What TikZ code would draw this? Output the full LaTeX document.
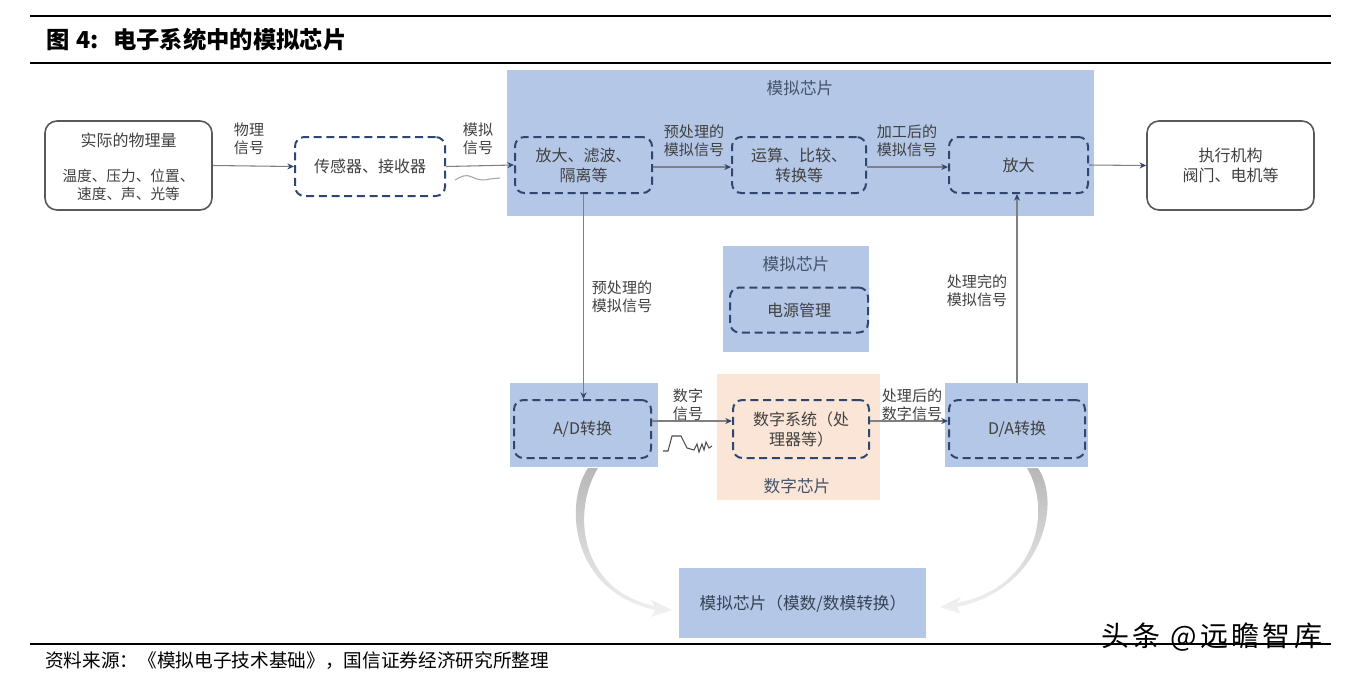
\documentclass[tikz,border=0pt]{standalone}
\usepackage{fontspec}
\setmainfont{Noto Sans CJK SC}
\usetikzlibrary{arrows.meta}
\definecolor{chipblue}{HTML}{B4C7E7}
\definecolor{peach}{HTML}{FBE5D6}
\definecolor{navy}{HTML}{2F4670}
\definecolor{txt}{HTML}{404040}
\definecolor{ttl}{HTML}{44546A}
\definecolor{linegray}{HTML}{808080}
\def\u{0.75pt}
\tikzset{
  whitebox/.style={draw=black!65, line width=1.2pt, rounded corners=9pt, fill=white, align=center, text=txt, font=\fontsize{12}{15}\selectfont},
  dbox/.style={draw=navy, line width=1.5pt, dash pattern=on 6pt off 3.5pt, rounded corners=7pt, align=center, text=txt, font=\fontsize{12}{15}\selectfont},
  chip/.style={fill=chipblue, draw=none},
  lbl/.style={align=center, text=txt, font=\fontsize{11.3}{13.5}\selectfont, inner sep=0pt},
  conn/.style={draw=linegray, line width=0.8pt, -{Stealth[length=5pt,width=4.5pt,color=navy]}},
  rulefat/.style={draw=black, line width=1.8pt},
  curvearr/.style={top color=black!28, bottom color=black!5, draw=none},
}
\begin{document}
\begin{tikzpicture}[x=0.75pt,y=-0.75pt]
\useasboundingbox (0,0) rectangle (1371,676);
% rules and title
\coordinate (r1a) at (30,16); \coordinate (r1b) at (1331,16);
\coordinate (r2a) at (30,63); \coordinate (r2b) at (1331,63);
\coordinate (r3a) at (30,644); \coordinate (r3b) at (1331,644);
\draw[rulefat] (r1a) -- (r1b);
\draw[line width=1.4pt] (r2a) -- (r2b);
\draw[line width=1.4pt] (r3a) -- (r3b);
\node[anchor=west, inner sep=0pt, font=\fontsize{17.5}{19}\selectfont\bfseries] (title) at (46,40) {图\hspace{0.3em}4:\hspace{0.6em}电子系统中的模拟芯片};
\node[anchor=west, inner sep=0pt, font=\fontsize{14}{16}\selectfont] (src) at (45,661) {资料来源：《模拟电子技术基础》，国信证券经济研究所整理};

% chip backgrounds
\node[chip, minimum width=587*\u, minimum height=146*\u] (chipA) at (800.5,143) {};
\node[text=ttl, font=\fontsize{12.5}{15}\selectfont, inner sep=0pt] (chipAt) at (800,88) {模拟芯片};
\node[chip, minimum width=146*\u, minimum height=106*\u] (chipP) at (796,299) {};
\node[text=ttl, font=\fontsize{12.5}{15}\selectfont, inner sep=0pt] (chipPt) at (796,264) {模拟芯片};
\node[chip, minimum width=148*\u, minimum height=84*\u] (chipAD) at (584,425) {};
\node[chip, minimum width=143*\u, minimum height=84*\u] (chipDA) at (1016.5,425) {};
\node[fill=peach, minimum width=163*\u, minimum height=126*\u] (chipD) at (798.5,437) {};
\node[text=ttl, font=\fontsize{12.5}{15}\selectfont, inner sep=0pt] (chipDt) at (797,486) {数字芯片};
\node[chip, minimum width=247*\u, minimum height=70*\u] (chipM) at (802.5,603) {};
\node[text=ttl!80!black, font=\fontsize{12.5}{15}\selectfont, inner sep=0pt] (chipMt) at (803,604) {模拟芯片（模数/数模转换）};

% boxes
\node[whitebox, minimum width=167*\u, minimum height=89*\u] (phys) at (128.5,165.5) {};
\node[text=txt, font=\fontsize{12}{15}\selectfont, inner sep=0pt] (physa) at (128.5,140) {实际的物理量};
\node[text=txt, align=center, font=\fontsize{11}{13.5}\selectfont, inner sep=0pt] (physb) at (128.5,185) {温度、压力、位置、\\速度、声、光等};
\node[dbox, minimum width=150*\u, minimum height=59*\u] (sensor) at (370,166.5) {传感器、接收器};
\node[dbox, minimum width=137*\u, minimum height=56*\u] (amp1) at (583.5,165) {放大、滤波、\\隔离等};
\node[dbox, minimum width=134*\u, minimum height=56*\u] (calc) at (799,165) {运算、比较、\\转换等};
\node[dbox, minimum width=139*\u, minimum height=56*\u] (amp2) at (1018.5,165) {放大};
\node[whitebox, minimum width=167*\u, minimum height=89*\u] (act) at (1230.5,165.5) {执行机构\\阀门、电机等};
\node[dbox, minimum width=138*\u, minimum height=45*\u] (power) at (799,310) {电源管理};
\node[dbox, minimum width=137*\u, minimum height=58*\u] (ad) at (582.5,429) {A/D转换};
\node[dbox, minimum width=136*\u, minimum height=58*\u] (dig) at (801,429) {数字系统（处\\理器等）};
\node[dbox, minimum width=136*\u, minimum height=58*\u] (da) at (1017,429) {D/A转换};

% connectors
\draw[conn] (phys.east) -- (sensor.west);
\draw[conn] (sensor.east) -- (amp1.west);
\draw[conn] ([yshift=-1.5pt]amp1.east) -- ([yshift=-1.5pt]calc.west);
\draw[conn] ([yshift=-1.5pt]calc.east) -- ([yshift=-1.5pt]amp2.west);
\draw[conn] (amp2.east) -- (act.west);
\draw[conn] (amp1.south) -- (amp1.south |- ad.north);
\draw[conn] (da.north |- chipDA.north) -- (da.north |- amp2.south);
\draw[conn] ([yshift=6pt]ad.east) -- ([yshift=6pt]dig.west);
\draw[conn] ([yshift=6pt]dig.east) -- ([yshift=6pt]da.west);

% labels
\node[lbl] (l1) at (249,139) {物理\\信号};
\node[lbl] (l2) at (478,139) {模拟\\信号};
\node[lbl] (l3) at (694,141) {预处理的\\模拟信号};
\node[lbl] (l4) at (907,141) {加工后的\\模拟信号};
\node[lbl] (l5) at (622,297) {预处理的\\模拟信号};
\node[lbl] (l6) at (977,291) {处理完的\\模拟信号};
\node[lbl] (l7) at (688,405) {数字\\信号};
\node[lbl] (l8) at (912,405) {处理后的\\数字信号};

% analog squiggle
\draw[black!35, line width=0.8pt] (455,180) .. controls (462,176) and (466,174) .. (472,177) .. controls (478,180) and (484,181) .. (490,179) -- (500,178);
% digital squiggle
\draw[black!70, line width=0.8pt] (663,451) -- (668,451) -- (672,436) -- (681,436) -- (687,448) -- (694,450) -- (697,444) -- (699,452) -- (702,444) -- (704,450) -- (706,442) -- (709,448) -- (712,446);

% curved arrows
\shade[curvearr] (588,468) .. controls (563,505) and (572,592) .. (655,610) -- (651,617) -- (672,610) -- (651,600) -- (655,606) .. controls (578,590) and (572,510) .. (598,468) -- cycle;
\begin{scope}[shift={(1612,0)}, xscale=-1]
\shade[curvearr] (574,468) .. controls (549,505) and (572,590) .. (655,607) -- (651,614) -- (672,607) -- (651,597) -- (655,603) .. controls (574,587) and (560,510) .. (585,468) -- cycle;
\end{scope}

% watermark
\node[anchor=west, inner sep=0pt, font=\fontsize{21}{22}\selectfont\addfontfeatures{LetterSpace=12}] (wm) at (1101,637) {头条 @远瞻智库};
\end{tikzpicture}
\end{document}
